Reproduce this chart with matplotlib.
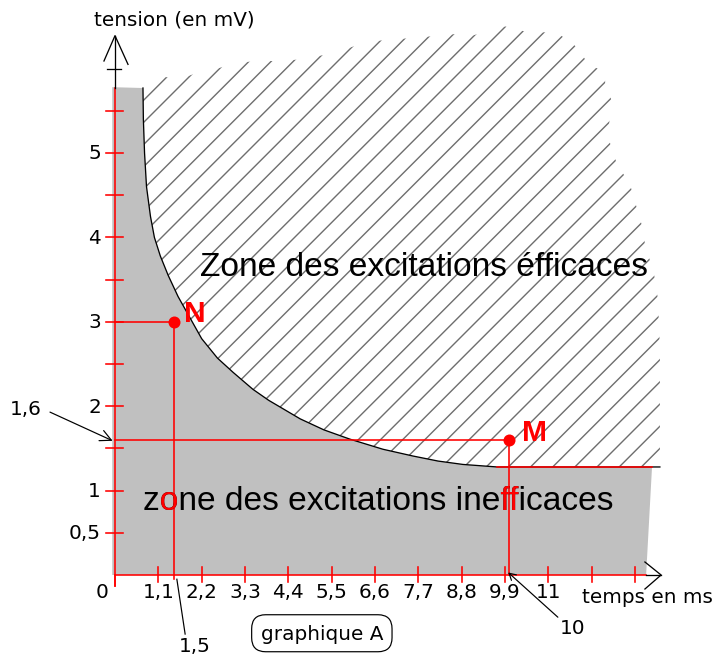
import matplotlib
matplotlib.use('Agg')
import matplotlib.pyplot as plt
from matplotlib.patches import Polygon
from matplotlib.transforms import Bbox

# ---------------- data ----------------
curve_t = [0.71, 0.72, 0.75, 0.80, 0.90, 1.00, 1.15, 1.35, 1.60, 1.90, 2.20, 2.60, 3.00, 3.50,
           3.90, 4.70, 5.30, 5.96, 6.80, 7.56, 8.20, 8.83, 9.70]
curve_v = [5.77, 5.40, 5.00, 4.60, 4.25, 4.00, 3.78, 3.55, 3.30, 3.05, 2.80, 2.57, 2.40, 2.20,
           2.07, 1.85, 1.72, 1.61, 1.49, 1.41, 1.35, 1.31, 1.28]
rheobase = 1.28
rheo_red_end = 13.63
rheo_black_end = 13.83
gray_bottom_right = 13.48
y_top = 5.77

zone_top_t = [1.27, 1.65, 2.16, 2.59, 3.12, 3.63, 4.24, 4.70, 5.53, 6.42, 7.21, 8.22, 8.65, 9.06,
              9.90, 10.48, 10.96, 11.32, 11.57, 11.80, 12.01, 12.44, 12.44, 12.59, 12.56, 12.51,
              12.61, 12.74, 13.07, 13.25, 13.40, 13.45, 13.68, 13.78, 13.83, 13.83]
zone_top_v = [5.90, 5.88, 5.96, 6.00, 6.07, 6.09, 6.09, 6.11, 6.18, 6.32, 6.35, 6.39, 6.41, 6.39,
              6.50, 6.43, 6.43, 6.39, 6.32, 6.21, 6.05, 5.96, 5.81, 5.64, 5.43, 5.20,
              5.05, 4.87, 4.63, 4.34, 4.10, 3.92, 3.57, 3.27, 2.68, 1.28]

xtick_vals = [1.1, 2.2, 3.3, 4.4, 5.5, 6.6, 7.7, 8.8, 9.9, 11.0, 12.1, 13.2]
xtick_labels = ['1,1', '2,2', '3,3', '4,4', '5,5', '6,6', '7,7', '8,8', '9,9', '11', '', '']
ytick_vals = [0.5, 1.0, 1.5, 2.0, 2.5, 3.0, 3.5, 4.0, 4.5, 5.0, 5.5]
ylabel_vals = [0.5, 1, 2, 3, 4, 5]
ylabel_text = ['0,5', '1', '2', '3', '4', '5']

N_pt = (1.5, 3.0)
M_pt = (10.0, 1.6)

# ---------------- figure ----------------
DPI = 133
W, H = 713, 657
PX = 72.0 / DPI  # points per pixel

fig = plt.figure(figsize=(W / DPI, H / DPI), dpi=DPI)
ax = fig.add_axes([0, 0, 1, 1])
ax.set_xlim(-115 / 39.4, (W - 115) / 39.4)
ax.set_ylim(-(H - 576) / 84.4, 576 / 84.4)
ax.axis('off')

RED = '#ff0000'
GRAY = '#c0c0c0'

# gray (inefficient) zone
gray_verts = [(-0.07, 0), (-0.07, y_top + 0.01), (curve_t[0], y_top)] + \
             list(zip(curve_t, curve_v)) + \
             [(rheo_red_end, rheobase), (gray_bottom_right, 0)]
ax.add_patch(Polygon(gray_verts, closed=True, facecolor=GRAY, edgecolor='none', zorder=1))

# hatched (efficient) zone
plt.rcParams['hatch.linewidth'] = 1.4 * PX
hatch_verts = [(curve_t[0], curve_v[0])] + list(zip(zone_top_t, zone_top_v)) + \
              list(zip(curve_t[::-1], curve_v[::-1]))
ax.add_patch(Polygon(hatch_verts, closed=True, fill=False, hatch='//',
                     edgecolor='#6e6e6e', linewidth=0, zorder=1))

# threshold curve
ax.plot(curve_t + [rheo_black_end], curve_v + [rheobase], color='black', lw=1.3 * PX,
        zorder=3, solid_joinstyle='round')

# red rheobase segment
ax.plot([curve_t[-1], rheo_red_end], [rheobase, rheobase], color=RED, lw=1.6 * PX, zorder=4)

# axes
ax.plot([0, 0], [-0.13, y_top], color=RED, lw=1.6 * PX, zorder=4)
ax.plot([0, 0], [y_top, 6.39], color='black', lw=1.3 * PX, zorder=4)
ax.plot([-0.28, 0, 0.33], [6.09, 6.39, 6.05], color='black', lw=1.3 * PX, zorder=4)
ax.plot([-0.2, 0.15], [5.995, 5.995], color='black', lw=1.3 * PX, zorder=4)

ax.plot([0, gray_bottom_right], [0, 0], color=RED, lw=1.6 * PX, zorder=4)
ax.plot([gray_bottom_right, 13.86], [0, 0], color='black', lw=1.3 * PX, zorder=4)
ax.plot([13.45, 13.86, 13.45], [0.154, 0, -0.166], color='black', lw=1.3 * PX, zorder=4)

for v in ytick_vals:
    ax.plot([-0.23, 0.2], [v, v], color=RED, lw=1.6 * PX, zorder=4)
for t in xtick_vals:
    ax.plot([t, t], [0.095, -0.085], color=RED, lw=1.6 * PX, zorder=4)
ax.plot([0, 0], [0, -0.13], color=RED, lw=1.6 * PX, zorder=4)

small = dict(family='DejaVu Sans', fontsize=20 * PX, color='black', zorder=6)
for v, s in zip(ylabel_vals, ylabel_text):
    ax.text(-0.36, v, s, ha='right', va='center', **small)
for t, s in zip(xtick_vals, xtick_labels):
    if s:
        ax.text(t, -0.2, s, ha='center', va='center', **small)
ax.text(-0.33, -0.2, '0', ha='center', va='center', **small)

# N and M construction lines
ax.plot([0, N_pt[0]], [N_pt[1], N_pt[1]], color=RED, lw=1.6 * PX, zorder=4)
ax.plot([N_pt[0], N_pt[0]], [N_pt[1], -0.05], color=RED, lw=1.6 * PX, zorder=4)
ax.plot([0, M_pt[0]], [M_pt[1], M_pt[1]], color=RED, lw=1.6 * PX, zorder=4)
ax.plot([M_pt[0], M_pt[0]], [M_pt[1], 0], color=RED, lw=1.6 * PX, zorder=4)
ax.plot([N_pt[0], M_pt[0]], [N_pt[1], M_pt[1]], 'o', color=RED, ms=12 * PX, mew=0, zorder=5, ls='none')

bold = dict(family='Liberation Sans', fontsize=30 * PX, fontweight='bold', color=RED, zorder=6)
ax.text(1.74, 3.01, 'N', ha='left', va='baseline', **bold)
ax.text(10.33, 1.60, 'M', ha='left', va='baseline', **bold)

# annotations
ax.annotate('', xy=(-0.06, 1.59), xytext=(-1.65, 1.93),
            arrowprops=dict(arrowstyle='->,head_length=0.6,head_width=0.3', color='black',
                            lw=1.2 * PX, shrinkA=0, shrinkB=0), zorder=6)
ax.text(-2.27, 1.967, '1,6', ha='center', va='center', **small)
ax.plot([1.57, 1.78], [-0.05, -0.70], color='black', lw=1.2 * PX, zorder=4)
ax.text(2.03, -0.83, '1,5', ha='center', va='center', **small)
ax.annotate('', xy=(9.98, 0.03), xytext=(11.24, -0.50),
            arrowprops=dict(arrowstyle='->,head_length=0.35,head_width=0.2', color='black',
                            lw=1.2 * PX, shrinkA=0, shrinkB=0), zorder=6)
ax.text(11.61, -0.62, '10', ha='center', va='center', **small)
ax.text(11.85, -0.26, 'temps en ms', ha='left', va='center', **small)
ax.text(-0.53, 6.59, 'tension (en mV)', ha='left', va='center', **small)
ax.text(5.25, -0.69, 'graphique A', ha='center', va='center',
        bbox=dict(boxstyle='round,pad=0.45,rounding_size=0.7', fc='white', ec='black', lw=1.2 * PX),
        **small)

# big zone labels
big = dict(family='Liberation Sans', fontsize=33.5 * PX, ha='left', va='baseline', zorder=6)
ax.text(2.16, 3.55, 'Zone des excitations éfficaces', color='black', **big)

fig.canvas.draw()
renderer = fig.canvas.get_renderer()


def text_with_red(x, y, s, parts, **kw):
    ax.text(x, y, s, color='black', **kw)
    for a, b in parts:
        t1 = ax.text(x, y, s[:a] if a > 0 else '', color='none', **kw)
        t2 = ax.text(x, y, s[:b], color='none', **kw)
        x0 = t1.get_window_extent(renderer).x1 if a > 0 else t2.get_window_extent(renderer).x0
        x1 = t2.get_window_extent(renderer).x1
        t1.remove()
        t2.remove()
        red = ax.text(x, y, s, color=RED, **kw)
        red.set_clip_path(None)
        red.set_clip_box(Bbox.from_extents(x0 + 0.5, -1e4, x1 + 0.5, 1e4))
        red.set_clip_on(True)


s_low = 'zone des excitations inefficaces'
i_ff = s_low.index('ff')
text_with_red(0.71, 0.78, s_low, [(1, 2), (i_ff, i_ff + 2)], **big)

fig.savefig('out.png', dpi=DPI)
